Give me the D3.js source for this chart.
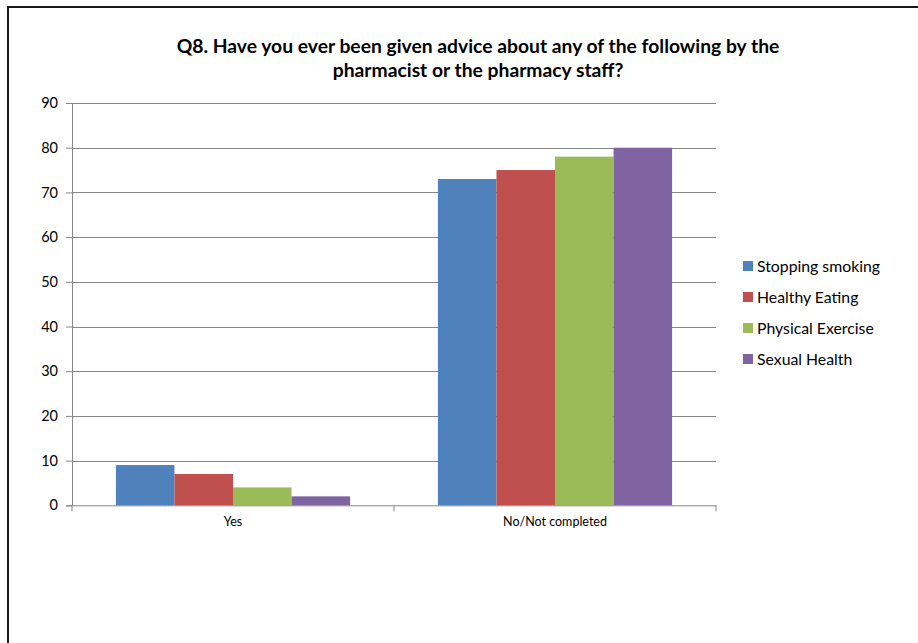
<!DOCTYPE html>
<html><head><meta charset="utf-8">
<script src="https://cdn.jsdelivr.net/npm/d3@7"></script>
<style>html,body{margin:0;padding:0;background:#fff;}svg{display:block;}</style>
</head><body>
<script>
const categories = ["Yes", "No/Not completed"];
const seriesNames = ["Stopping smoking", "Healthy Eating", "Physical Exercise", "Sexual Health"];
const stoppingSmoking = [9, 73];
const healthyEating = [7, 75];
const physicalExercise = [4, 78];
const sexualHealth = [2, 80];
const yTicks = [0, 10, 20, 30, 40, 50, 60, 70, 80, 90];
const colors = ["#4F81BD", "#C0504D", "#9BBB59", "#8064A2"];
const titleLines = ["Q8. Have you ever been given advice about any of the following by the", "pharmacist or the pharmacy staff?"];

(function () {
const series = [stoppingSmoking, healthyEating, physicalExercise, sexualHealth];
const W = 918, H = 643;
const font = "Lato, 'Open Sans', sans-serif";
const svg = d3.select("body").append("svg").attr("width", W).attr("height", H);

// outer border
svg.append("rect").attr("x", 8).attr("y", 7).attr("width", W + 10).attr("height", H + 10)
  .attr("fill", "#fff").attr("stroke", "#1a1a1a").attr("stroke-width", 2);

const pLeft = 72, pRight = 716, pTop = 103, pBottom = 505.3;
const x = d3.scaleBand().domain(categories).range([pLeft, pRight]);
const x1 = d3.scaleBand().domain(d3.range(series.length)).range([0, x.bandwidth()]).paddingOuter(0.75).paddingInner(0);
const y = d3.scaleLinear().domain([0, 90]).range([pBottom, pTop]);

// gridlines
svg.append("g").selectAll("line").data(yTicks.filter(d => d > 0)).join("line")
  .attr("x1", pLeft).attr("x2", pRight).attr("y1", d => Math.round(y(d)) + 0.5).attr("y2", d => Math.round(y(d)) + 0.5)
  .attr("stroke", "#868686").attr("stroke-width", 1);

// bars
const g = svg.append("g");
series.forEach((vals, si) => {
  g.selectAll(null).data(vals).join("rect")
    .attr("x", (d, i) => x(categories[i]) + x1(si))
    .attr("width", x1.bandwidth())
    .attr("y", d => y(d))
    .attr("height", d => y(0) - y(d))
    .attr("fill", colors[si]);
});

// y axis
const yAxis = d3.axisLeft(y).tickValues(yTicks).tickSize(6).tickPadding(8);
const ya = svg.append("g").attr("transform", `translate(${pLeft},0)`).call(yAxis);
ya.select(".domain").attr("stroke", "#868686");
ya.selectAll(".tick line").attr("stroke", "#868686");
ya.selectAll("text").attr("font-family", font).attr("font-size", 14.5).attr("fill", "#000");

// x axis
const xa = svg.append("g").attr("transform", `translate(0,${pBottom})`)
  .call(d3.axisBottom(x).tickSize(0).tickPadding(12));
xa.select(".domain").attr("stroke", "#868686");
xa.selectAll("text").attr("font-family", font).attr("font-size", 12.5).attr("fill", "#000");
// category separator ticks
const sepTicks = [pLeft, x(categories[1]), pRight];
svg.append("g").selectAll("line").data(sepTicks).join("line")
  .attr("x1", d => d).attr("x2", d => d).attr("y1", pBottom).attr("y2", pBottom + 6)
  .attr("stroke", "#868686");

// title
svg.append("g").selectAll("text").data(titleLines).join("text")
  .attr("x", 478).attr("y", (d, i) => 53 + i * 24)
  .attr("text-anchor", "middle").attr("font-family", font).attr("font-weight", "bold")
  .attr("font-size", 19.3).attr("fill", "#000").text(d => d);

// legend
const lg = svg.append("g").selectAll("g").data(seriesNames).join("g")
  .attr("transform", (d, i) => `translate(743,${266 + i * 31})`);
lg.append("rect").attr("x", 0).attr("y", -5).attr("width", 10).attr("height", 10).attr("fill", (d, i) => colors[i]);
lg.append("text").attr("x", 14).attr("y", 5.5).attr("font-family", font).attr("font-size", 15.8)
  .attr("fill", "#000").text(d => d);
})();
</script>
</body></html>
